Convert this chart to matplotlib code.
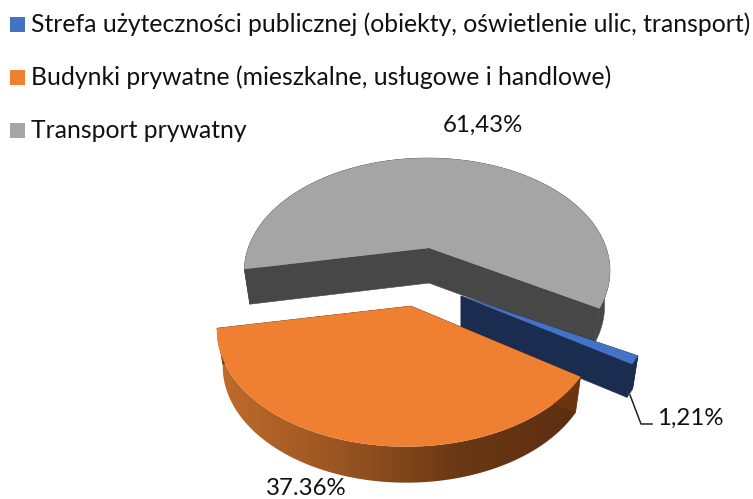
import numpy as np
import matplotlib
matplotlib.use('Agg')
import matplotlib.pyplot as plt
from matplotlib.colors import LinearSegmentedColormap
from matplotlib.patches import Polygon, Rectangle

# data, order follows the pie going clockwise
categories = ['Strefa użyteczności publicznej (obiekty, oświetlenie ulic, transport)',
              'Budynki prywatne (mieszkalne, usługowe i handlowe)',
              'Transport prywatny']
shares = [1.21, 37.36, 61.43]
value_labels = ['1,21%', '37.36%', '61,43%']
top_colors = ['#4472c4', '#ef7f31', '#a5a5a5']
cut_colors = ['#1a2c50', '#6b3512', '#474747']

START_ANGLE = 120.4
K = 0.2036
FONT_SIZE = 17.8
LABEL_SIZE = 17.3

plt.rcParams['font.family'] = ['Lato', 'DejaVu Sans']

fig = plt.figure(figsize=(7.53, 4.99), dpi=100)
ax = fig.add_axes([0, 0, 1, 1])


def project(theta, apex, radius, height, skew=0.0):
    # flat disc seen in perspective, theta clockwise from the back
    t = np.radians(theta)
    u, v = np.sin(t), np.cos(t)
    d = 1 + K * v + skew * u
    return np.column_stack([apex[0] + radius * u / d, apex[1] - height * v / d])


def lower(points, apex, depth):
    out = points.copy()
    out[:, 0] = apex[0] + (out[:, 0] - apex[0]) * 0.97
    out[:, 1] = out[:, 1] + depth
    return out


edges = START_ANGLE + np.cumsum([0] + shares) * 3.6

# slice positions after the explosion: apex, radius, height, depth, skew
apex_list = [(461, 296), (411, 306), (429, 248)]
radius_list = [184, 186, 179]
height_list = [106, 112, 108.3]
depth_list = [33, 36, 35]
skew_list = [0.0, 0.021, 0.01]


def draw_slice(i, side_color=None):
    apex = np.array(apex_list[i], dtype=float)
    a, b = edges[i], edges[i + 1]
    arc = project(np.linspace(a, b, 200), apex, radius_list[i], height_list[i], skew_list[i])
    arc_low = lower(arc, apex, depth_list[i])
    apex_low = apex + [0, depth_list[i]]
    side = np.vstack([arc, arc_low[::-1]])

    if side_color is None:
        ax.add_patch(Polygon(side, closed=True, fc=cut_colors[i], ec=cut_colors[i], lw=0.4, zorder=i_order[i]))
    else:
        patch = Polygon(side, closed=True, fc='none', ec='none', zorder=i_order[i])
        ax.add_patch(patch)
        im = ax.imshow(np.linspace(0, 1, 256).reshape(1, -1), cmap=side_color, aspect='auto',
                       extent=(arc[:, 0].min(), arc[:, 0].max(), 499, 0), zorder=i_order[i])
        im.set_clip_path(patch)

    # the two cut faces
    for p, p_low in ((arc[0], arc_low[0]), (arc[-1], arc_low[-1])):
        ax.add_patch(Polygon([apex, p, p_low, apex_low], closed=True, fc=cut_colors[i], ec=cut_colors[i],
                             lw=0.4, zorder=i_order[i] + 0.1))

    ax.add_patch(Polygon(np.vstack([apex, arc]), closed=True, fc=top_colors[i], ec='none',
                         zorder=i_order[i] + 0.2))


# grey at the back, then blue, orange in front
i_order = {2: 1, 0: 2, 1: 3}
orange_side = LinearSegmentedColormap.from_list('orange_side', ['#c06c2a', '#9a5522', '#6a3814', '#5c2e10'])
draw_slice(2)
draw_slice(0)
draw_slice(1, orange_side)

# leader line for the small slice
ax.plot([630, 641, 652], [395, 424, 424], color='#222222', lw=1.1, zorder=5)

# legend
legend_y = [17, 70, 123]
for name, color, y in zip(categories, top_colors, legend_y):
    ax.add_patch(Rectangle((10, y), 15, 15, fc=color, ec='none', zorder=5))
    ax.text(31, y + 15, name, fontsize=FONT_SIZE, color='#111111', va='baseline', ha='left', zorder=6)

# value labels
ax.text(690, 425, value_labels[0], fontsize=LABEL_SIZE, color='#111111', ha='center', va='baseline', zorder=6)
ax.text(306, 495, value_labels[1], fontsize=LABEL_SIZE, color='#111111', ha='center', va='baseline', zorder=6)
ax.text(483, 132, value_labels[2], fontsize=LABEL_SIZE, color='#111111', ha='center', va='baseline', zorder=6)

ax.set_xlim(0, 753)
ax.set_ylim(499, 0)
ax.axis('off')
fig.savefig('out.png', dpi=100)
